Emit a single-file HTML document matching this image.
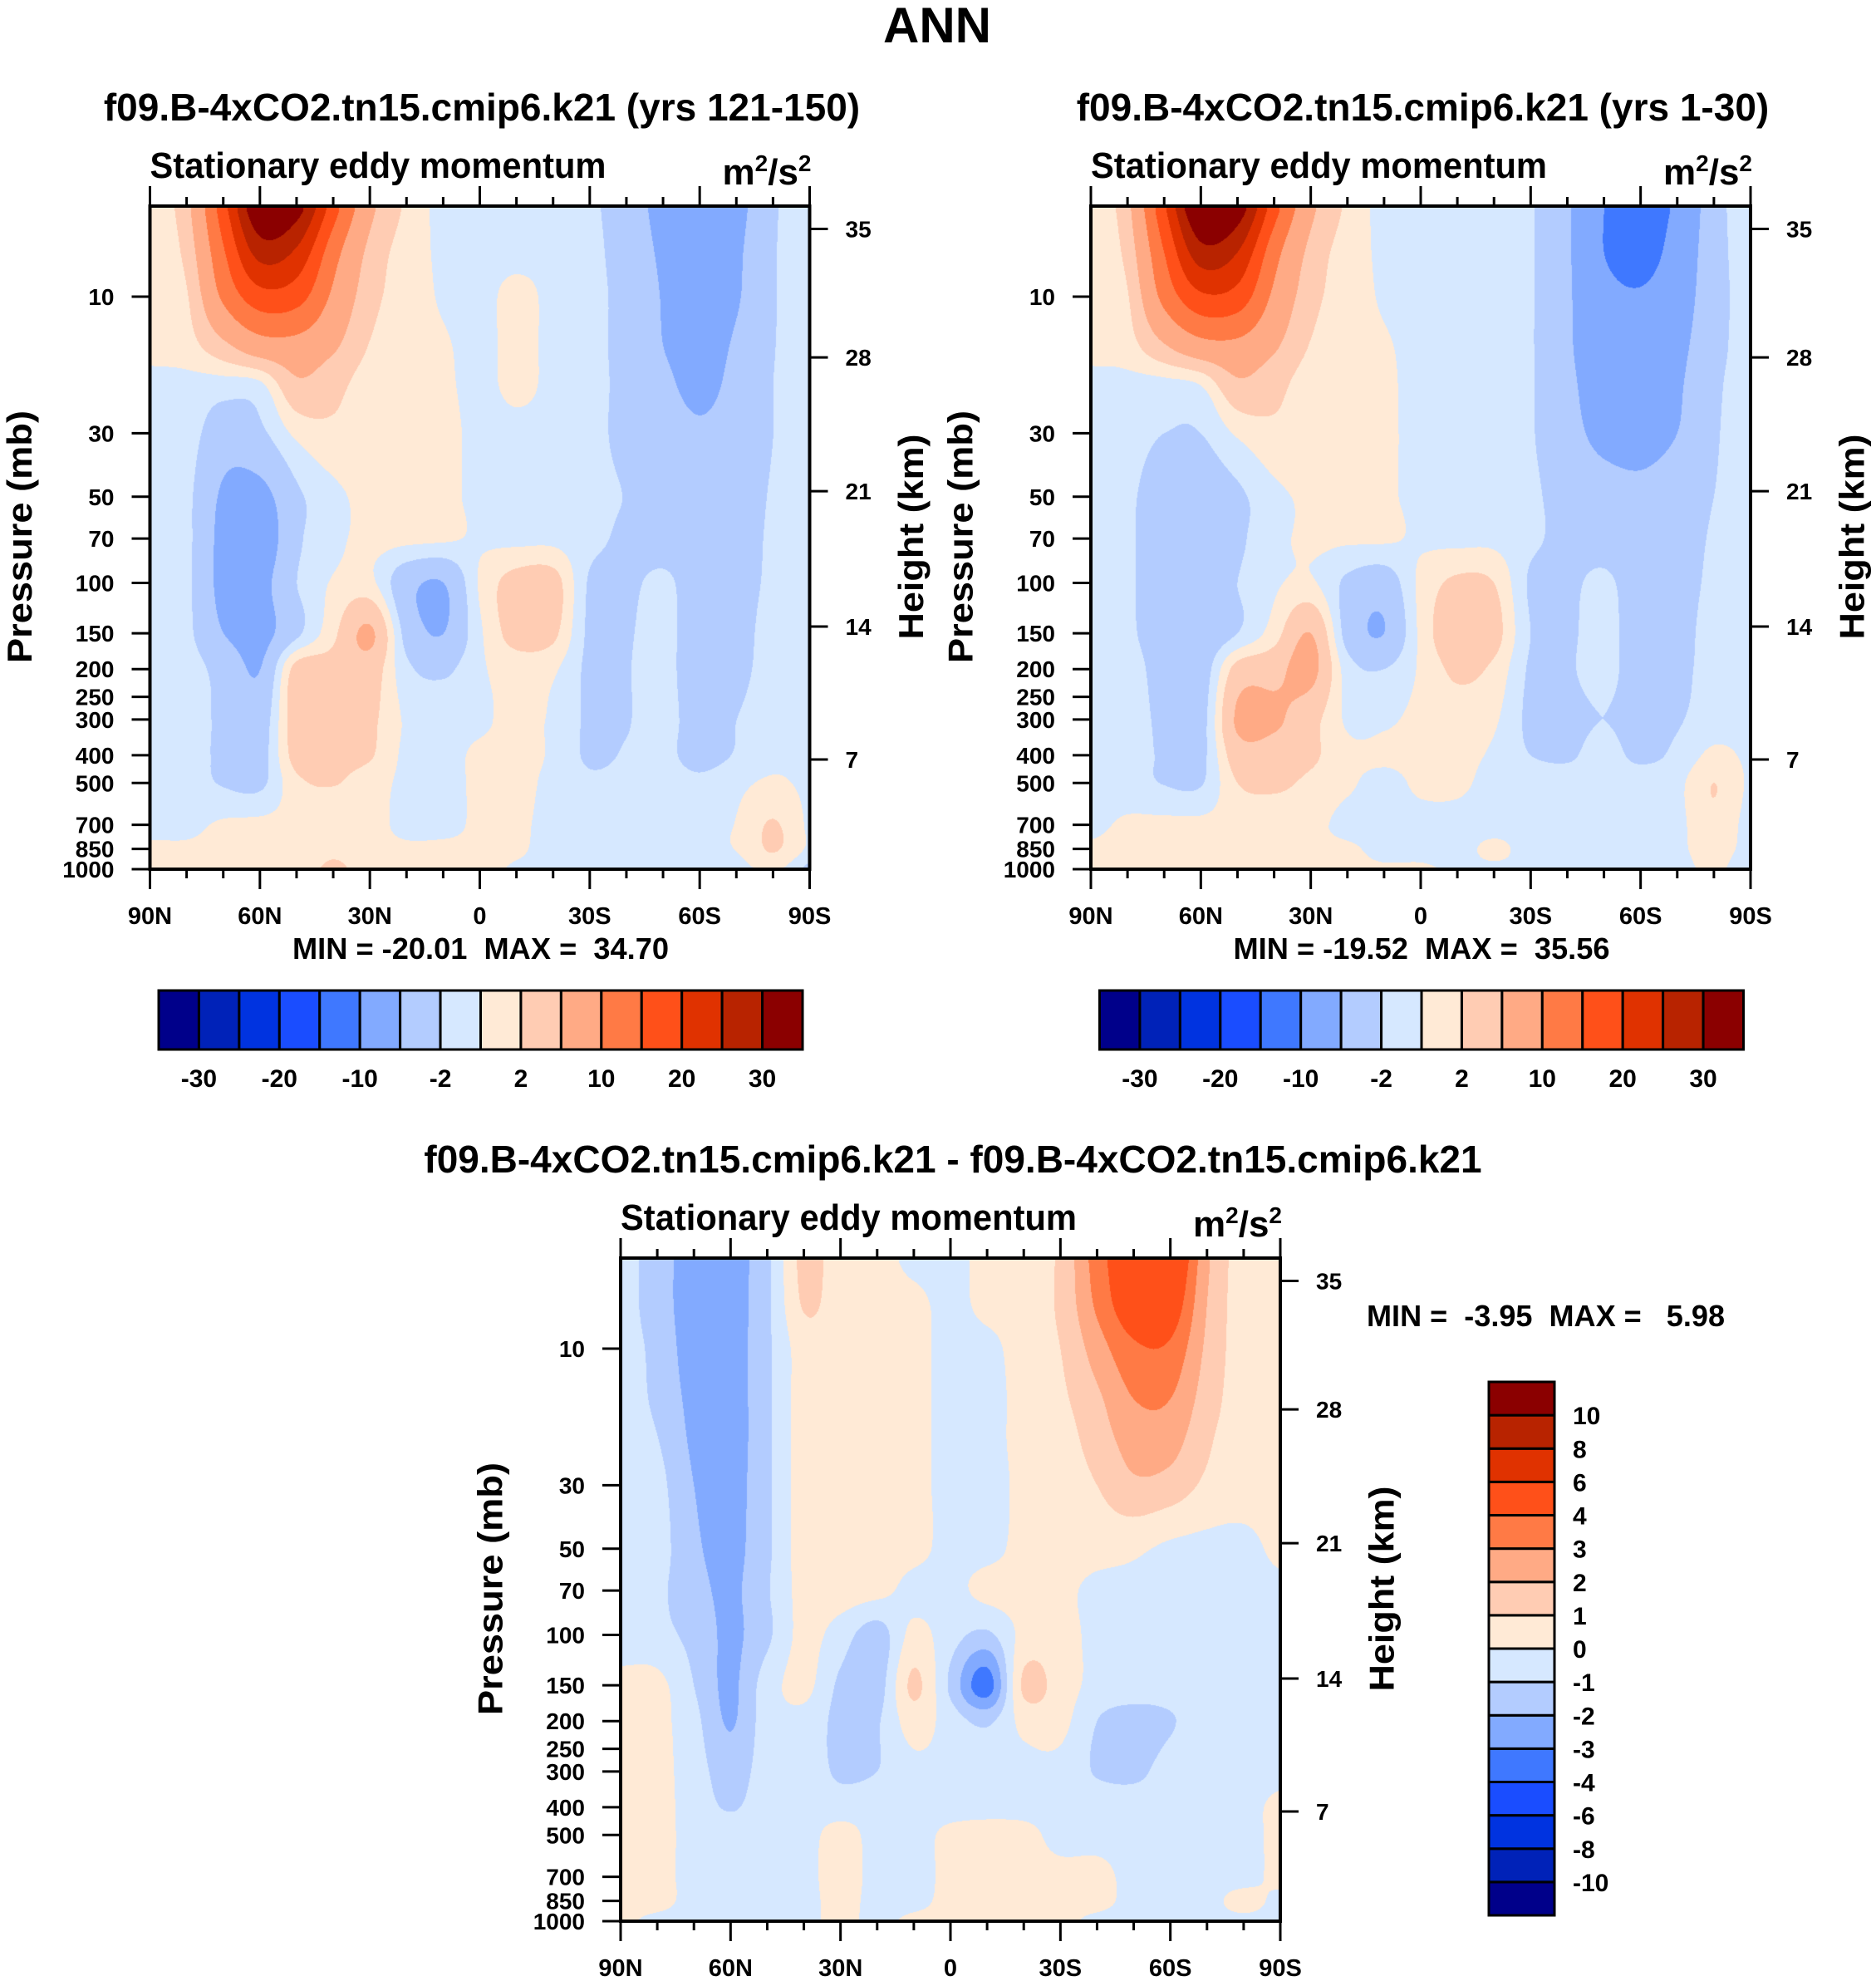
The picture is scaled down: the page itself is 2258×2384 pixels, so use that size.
<!DOCTYPE html>
<html><head><meta charset="utf-8"><title>ANN Stationary eddy momentum</title>
<style>
html,body{margin:0;padding:0;background:#fff;}
#wrap{position:relative;width:2258px;height:2384px;overflow:hidden;background:#fff;}
canvas{position:absolute;}
#svg{position:absolute;left:0;top:0;}
text{font-family:"Liberation Sans",Arial,sans-serif;font-weight:bold;fill:#000;white-space:pre;}
</style></head>
<body>
<div id="wrap">
<svg id="svg" width="2258" height="2384" xmlns="http://www.w3.org/2000/svg"></svg>
</div>
<script>
// ---------------- data ----------------
const latCols=[90,80,70,60,50,40,30,20,10,0,-10,-20,-30,-40,-50,-60,-70,-80,-90];
const pRows=[5,7,10,15,20,30,50,70,100,150,200,300,400,500,700,850,1000];
const field1=[
[0.3,4,18,35,32,17,6,1.5,-0.5,-0.5,-0.5,-0.5,-1.5,-3.5,-6,-7.5,-6,-2.3,-1],
[0.3,3,14.5,27,24,12,4,1,-0.3,-0.5,-0.5,-0.5,-1.3,-3.3,-5.5,-7,-5.5,-2.2,-1],
[0.3,1.8,11,18,17,9,3,1,-0.2,-0.5,0.5,-0.5,-1.2,-3,-5.2,-7,-5.3,-2.2,-1],
[0.3,1,4,7.5,8,5.5,1.8,0.8,0.2,-0.5,0.5,-0.5,-1.2,-3,-5,-6.5,-4.5,-2.1,-1],
[-0.3,-0.5,-0.7,-0.2,4.5,3,0.8,0.6,0.3,-0.5,0.5,-0.5,-1.2,-2.8,-4.3,-6,-4,-2,-1],
[-0.5,-1,-3.5,-2.5,0.5,1.5,0.5,0.5,0.5,-0.5,-0.5,-0.5,-1.3,-2.7,-3.5,-4.5,-3.5,-2,-1],
[-0.5,-1.5,-5.5,-6,-2.5,-0.5,0.5,0.5,0.5,-0.5,-0.5,-0.5,-1.3,-2.1,-3,-3.5,-3,-1.8,-1],
[-0.5,-1.5,-6,-7,-2.5,-0.5,0.5,0.5,0.3,-0.3,-0.5,-0.5,-1.4,-2.5,-3,-3,-2.8,-1.7,-1],
[-0.5,-1.5,-6,-6,-2,0.2,0.5,-4,-5,0.3,3,3,-2.3,-2.4,-1.6,-3.2,-2.8,-1.6,-1],
[-0.5,-1.5,-5,-6,-2.5,1.5,5.5,-3,-5,-0.3,3,2.5,-2.5,-2.2,-1.3,-3.5,-2.8,-1.2,-0.8],
[-0.5,-1,-3,-5,3,3,3.5,-1.5,-2.5,-0.3,0.8,0.3,-2.5,-2.1,-1.3,-3.5,-2.6,-1.2,-0.8],
[-0.5,-1,-2.5,-3.5,3.5,3,2.5,-0.3,-0.5,-0.3,0.5,-0.3,-2.4,-2.1,-1.3,-3,-2,-1,-0.8],
[-0.5,-1,-2.5,-3,3,2.5,2.2,-0.5,-0.5,0.3,0.5,-0.3,-2.4,-1.8,-1.5,-2.8,-1.8,-0.5,-0.5],
[-0.5,-1,-2.2,-2.5,1.5,2.1,1,-0.5,-0.5,0.3,0.5,-0.5,-1.5,-1.2,-1,-1.5,-0.5,0.3,-0.5],
[-0.5,-0.5,0.3,0.5,0.5,0.6,0.6,-0.5,-0.5,0.3,0.3,-0.5,-0.5,-0.5,-0.5,-0.5,0.1,2.2,-0.5],
[0.3,0.3,0.5,0.5,0.5,1.5,0.6,0.3,0.4,0.3,0.2,-0.5,-0.5,-0.5,-0.5,-0.5,0.1,2.2,-0.5],
[0.3,0.5,0.5,0.5,0.8,2.5,0.8,0.5,0.8,0.5,-0.2,-0.3,-0.3,-0.3,-0.3,-2,-1,0.5,-3]
];
const field2=[
[0.3,4,19,36,33,17,6,1.5,-0.5,-0.5,-0.5,-0.5,-1.8,-4.5,-10,-13,-9,-3,-1],
[0.3,3,15,28,25,12,4,1,-0.3,-0.5,-0.5,-0.5,-1.8,-4.5,-10,-12,-8,-3,-1],
[0.3,1.8,11.5,19,18,9,3,1,-0.2,-0.5,-0.5,-0.5,-1.8,-4.5,-8.5,-9.5,-7,-3,-1],
[0.3,1,4.5,8,8.5,5.5,1.8,0.8,0.2,-0.5,-0.5,-0.5,-1.8,-4.5,-7.5,-8,-6,-2.8,-1],
[-0.3,-0.5,-0.5,0.3,4.5,3,0.8,0.6,0.3,-0.5,-0.5,-0.5,-1.8,-4.2,-7,-7.5,-5.5,-2.5,-1],
[-0.5,-1,-2,-2,0.3,1.5,0.8,0.3,0.3,-0.5,-0.5,-0.5,-1.8,-3.8,-6,-6.5,-5,-2.3,-1],
[-0.5,-1.5,-3.5,-3.5,-2.5,-0.5,0.3,0.3,0.3,-0.5,-0.5,-0.5,-1.6,-2.8,-3.5,-4,-3,-2,-1],
[-0.5,-1.5,-4,-4,-2.5,-0.5,0.3,0.3,0.3,-0.3,-0.5,-0.5,-1.6,-2.6,-3,-3.5,-2.8,-1.8,-1],
[-0.5,-1.5,-4,-4,-2,-0.3,0.3,-2.5,-3.5,0.5,2.5,2,-2.3,-2.4,-1.6,-3.2,-2.8,-1.6,-1],
[-0.5,-1.5,-3.5,-4,-2,1,5,-3,-5,0.5,4,3,-2,-2.3,-1.3,-3.2,-2.8,-1.2,-0.8],
[-0.5,-1,-3,-3.5,3,4,6,-1,-2,0.3,2.5,1.5,-2.3,-2.2,-1.4,-3,-2.6,-1.2,-0.8],
[-0.5,-1,-2.5,-3,5.5,5.5,3,-0.3,-0.3,0.5,1,0.3,-2.5,-2.5,-2,-2.7,-2.2,-1,-0.8],
[-0.5,-1,-2.3,-2.7,3.5,3.5,2.5,0.5,0.3,0.5,0.5,-0.3,-2,-2.3,-1.2,-2.5,-1.5,0.5,-0.5],
[-0.5,-1,-2.1,-2.2,2,2.5,1.5,0.3,-0.5,0.3,0.3,-0.5,-0.7,-1,-0.8,-0.8,-0.5,2,-0.5],
[-0.5,0.3,0.5,0.5,0.6,0.6,0.5,-0.5,-0.5,-0.5,-0.5,-0.5,-0.5,-0.5,-0.5,-0.5,-0.5,1.5,-1],
[0.3,0.5,0.5,0.5,0.5,0.6,0.5,0.3,-0.5,-0.5,-0.5,0.3,-0.5,-0.5,-0.5,-1,-0.5,1,-1],
[0.3,0.5,0.5,0.5,0.8,1,0.8,0.5,0.3,0.3,-0.3,-0.3,-0.3,-0.3,-0.3,-2,-1,0.5,-2]
];
const field3=[
[-0.5,-1.5,-2.5,-2.5,-1.2,1.3,0.5,0.5,-0.3,-0.3,0.3,0.5,1.2,3.5,5,5.5,2.2,0.5,0.5],
[-0.5,-1.5,-2.5,-2.5,-1.2,1.1,0.5,0.5,0.3,-0.3,0.3,0.5,1.2,3.2,4.8,4.8,2,0.5,0.5],
[-0.5,-1.3,-2.5,-2.5,-1.2,0.5,0.5,0.5,0.3,-0.3,-0.3,0.5,1,2.5,3.8,3.8,1.8,0.5,0.5],
[-0.5,-1.2,-2.3,-2.5,-1.2,0.5,0.5,0.5,0.3,-0.3,-0.3,0.3,0.8,1.8,3,3,1.5,0.5,0.5],
[-0.5,-1,-2.2,-2.5,-1.2,0.5,0.5,0.5,0.3,-0.3,-0.3,0.3,0.6,1.5,2.5,2.5,1.2,0.5,0.5],
[-0.5,-0.7,-2,-2.4,-1.2,0.5,0.5,0.5,0.3,-0.3,-0.3,0.2,0.5,1,1.8,1.6,0.8,0.5,0.5],
[-0.5,-0.6,-1.8,-2.3,-1.2,0.5,0.5,0.5,0.3,-0.3,-0.3,0.3,0.5,0.4,0.2,-0.2,-0.3,-0.3,0.3],
[-0.5,-0.8,-1.6,-2.2,-1.1,0.4,0.5,0.3,-0.3,-0.3,0.3,0.4,0.3,-0.3,-0.3,-0.4,-0.4,-0.3,-0.3],
[-0.5,-0.7,-1.3,-2.2,-1.2,0.3,-0.5,-1.5,0.3,-0.6,-1.2,0.3,0.4,-0.3,-0.4,-0.5,-0.4,-0.3,-0.3],
[0.3,0.3,-1,-2.2,-0.5,0.3,-1.2,-1.5,1.2,-1.2,-3.5,1.2,0.5,-0.3,-0.4,-0.5,-0.4,-0.3,-0.3],
[0.3,0.3,-0.7,-2.1,-0.5,-0.3,-1.3,-1.1,0.5,-0.5,-1.2,0.3,0.3,-1,-1.5,-1.1,-0.4,-0.3,-0.3],
[0.3,0.3,-0.5,-1.5,-0.5,-0.3,-1.2,-1,-0.3,-0.3,-0.3,-0.3,-0.3,-1.1,-1.3,-0.5,-0.3,-0.3,-0.3],
[0.3,0.3,-0.4,-1.1,-0.4,-0.3,-0.4,-0.3,-0.3,-0.3,-0.3,-0.3,-0.3,-0.3,-0.3,-0.3,-0.3,-0.3,0.3],
[0.3,0.3,-0.3,-0.4,-0.3,-0.3,0.3,-0.3,-0.3,0.2,0.4,0.3,-0.3,-0.3,-0.3,-0.3,-0.3,-0.3,0.3],
[0.3,0.3,-0.3,-0.3,-0.3,-0.3,0.4,-0.3,-0.3,0.2,0.3,0.3,0.3,0.3,-0.3,-0.3,-0.3,-0.3,0.3],
[0.3,0.3,-0.3,-0.3,-0.3,-0.3,0.3,-0.3,-0.3,0.3,0.3,0.3,0.3,0.3,-0.3,-0.3,-0.3,0.3,-0.3],
[0.3,-0.3,-0.3,-0.3,-0.3,-0.3,0.3,-0.3,0.3,0.3,0.3,0.3,0.3,-0.3,-0.3,-0.3,-0.3,-0.3,-0.3]
];
const levelsAbs=[-30,-25,-20,-15,-10,-5,-2,0,2,5,10,15,20,25,30];
const levelsDiff=[-10,-8,-6,-4,-3,-2,-1,0,1,2,3,4,6,8,10];
const fillColors=["#00008a","#0022b8","#0033e0","#1a4dff","#3f78ff","#82aaff","#b3ccff","#d6e8ff","#ffead6","#ffccb3","#ffaa85","#ff7a45","#ff5019","#e03200","#b82300","#8b0000"];
const latTicks=[90,60,30,0,-30,-60,-90];
const latTickLabels=["90N","60N","30N","0","30S","60S","90S"];
const latMinor=[80,70,50,40,20,10,-10,-20,-40,-50,-70,-80];
const pTicks=[10,30,50,70,100,150,200,250,300,400,500,700,850,1000];
const hTickLabels=["35","28","21","14","7"];
const hTickP=[5.8,16.3,47.8,142,414];
const titles=["f09.B-4xCO2.tn15.cmip6.k21 (yrs 121-150)","f09.B-4xCO2.tn15.cmip6.k21 (yrs 1-30)","f09.B-4xCO2.tn15.cmip6.k21 - f09.B-4xCO2.tn15.cmip6.k21"];
const minVals=["-20.01","-19.52","-3.95"];
const maxVals=["34.70","35.56","5.98"];

// ---------------- helpers ----------------
const NS="http://www.w3.org/2000/svg";
const svg=document.getElementById('svg');
const wrap=document.getElementById('wrap');
function mk(tag,attrs,parent){const e=document.createElementNS(NS,tag);for(const k in attrs)e.setAttribute(k,attrs[k]);(parent||svg).appendChild(e);return e;}
function txt(s,attrs,parent){const e=mk('text',attrs,parent);e.textContent=s;return e;}
function xOf(P,lat){return P.left+(90-lat)/180*P.w;}
function yOf(P,p){return P.top+109+344.5*Math.log10(p/10);}
function interp1(xs,vs,x){const n=xs.length;if(x<=xs[0])return vs[0];if(x>=xs[n-1])return vs[n-1];
 let k=0;while(k<n-2&&x>xs[k+1])k++;const h=xs[k+1]-xs[k];const t=(x-xs[k])/h;
 const m0=k>0?(vs[k+1]-vs[k-1])/(xs[k+1]-xs[k-1]):(vs[1]-vs[0])/h;
 const m1=k<n-2?(vs[k+2]-vs[k])/(xs[k+2]-xs[k]):(vs[n-1]-vs[n-2])/h;
 const t2=t*t,t3=t2*t;
 return (2*t3-3*t2+1)*vs[k]+(t3-2*t2+t)*h*m0+(-2*t3+3*t2)*vs[k+1]+(t3-t2)*h*m1;}
function rgb(h){return [parseInt(h.substr(1,2),16),parseInt(h.substr(3,2),16),parseInt(h.substr(5,2),16)];}
const rgbs=fillColors.map(rgb);
function colorIdx(v,lev){let i=0;while(i<lev.length&&v>=lev[i])i++;return i;}

const panels=[
 {left:180.5,top:248,w:794,h:798,field:field1,levels:levelsAbs,idx:0,dx:0,dy:0},
 {left:1313,top:248,w:794,h:798,field:field2,levels:levelsAbs,idx:1,dx:1132.5,dy:0},
 {left:747,top:1514,w:794,h:798,field:field3,levels:levelsDiff,idx:2,dx:566.5,dy:1266}
];

// ---------------- title ----------------
const main=txt("ANN",{x:1128,y:51,'text-anchor':'middle','font-size':60});



function drawField(P){
 const c=document.createElement('canvas');
 const W=Math.round(P.w),H=P.h;
 c.width=W;c.height=H;
 c.style.left=P.left+'px';c.style.top=P.top+'px';
 
 
 wrap.insertBefore(c,svg);
 const ctx=c.getContext('2d');
 const img=ctx.createImageData(W,H);
 const lr=pRows.map(p=>Math.log10(p));
 const colIdx=latCols.map((l,i)=>i);
 for(let j=0;j<H;j++){
  const lp=1+(j+0.5-109)/344.5;
  const colv=[];
  for(let c2=0;c2<latCols.length;c2++){const col=P.field.map(r=>r[c2]);colv.push(interp1(lr,col,lp));}
  for(let i=0;i<W;i++){
   const u=(i+0.5)/W*18;
   const v=interp1(colIdx,colv,u);
   const ci=rgbs[colorIdx(v,P.levels)];
   const o=(j*W+i)*4;img.data[o]=ci[0];img.data[o+1]=ci[1];img.data[o+2]=ci[2];img.data[o+3]=255;
  }
 }
 ctx.putImageData(img,0,0);
}

function drawPanel(P){
 drawField(P);
 const g=mk('g',{});
 
 
 const R=P.left+P.w,B=P.top+P.h;
 const t=txt(titles[P.idx],{x:(P.idx==2?1147:580+P.dx),y:145+P.dy,'text-anchor':'middle','font-size':46},g);
 
 
 const st=txt("Stationary eddy momentum",{x:P.left,y:214+P.dy,'font-size':44,textLength:549,lengthAdjust:'spacingAndGlyphs'},g);
 
 
 const un=mk('text',{x:R+2,y:222+P.dy,'text-anchor':'end','font-size':44},g);
 un.innerHTML='m<tspan dy="-16" font-size="28">2</tspan><tspan dy="16">/s</tspan><tspan dy="-16" font-size="28">2</tspan>';
 
 
 const fr=mk('rect',{x:P.left,y:P.top,width:P.w,height:P.h,fill:'none',stroke:'#000','stroke-width':4},g);
 
 
 latTicks.forEach((lat,i)=>{
  const x=xOf(P,lat);
  const t1=mk('line',{x1:x,x2:x,y1:P.top,y2:P.top-24,stroke:'#000','stroke-width':3},g);
  
  
  const t2=mk('line',{x1:x,x2:x,y1:B,y2:B+24,stroke:'#000','stroke-width':3},g);
  
  
  const l=txt(latTickLabels[i],{x:x,y:B+66,'text-anchor':'middle','font-size':29},g);
  
  
 });
 latMinor.forEach(lat=>{
  const x=xOf(P,lat);
  const t1=mk('line',{x1:x,x2:x,y1:P.top,y2:P.top-11,stroke:'#000','stroke-width':3},g);
  
  
  const t2=mk('line',{x1:x,x2:x,y1:B,y2:B+11,stroke:'#000','stroke-width':3},g);
  
  
 });
 pTicks.forEach(p=>{
  const y=yOf(P,p);
  const tk=mk('line',{x1:P.left,x2:P.left-22,y1:y,y2:y,stroke:'#000','stroke-width':3},g);
  
  
  const l=txt(String(p),{x:P.left-43,y:y+10,'text-anchor':'end','font-size':28},g);
  
  
 });
 hTickP.forEach((p,i)=>{
  const y=yOf(P,p);
  const tk=mk('line',{x1:R,x2:R+22,y1:y,y2:y,stroke:'#000','stroke-width':3},g);
  
  
  const l=txt(hTickLabels[i],{x:R+43,y:y+10,'font-size':28},g);
  
  
 });
 const cyc=P.top+398;
 const px=P.left-157.5;
 const pt=txt("Pressure (mb)",{x:px,y:cyc,'text-anchor':'middle','font-size':42,transform:'rotate(-90 '+px+' '+cyc+')',dy:15,textLength:304,lengthAdjust:'spacingAndGlyphs'},g);
 
 
 const hx=R+121.5;
 const ht=txt("Height (km)",{x:hx,y:cyc,'text-anchor':'middle','font-size':42,transform:'rotate(-90 '+hx+' '+cyc+')',dy:15,textLength:247,lengthAdjust:'spacingAndGlyphs'},g);
 
 
 if(P.idx<2){
  const mm=txt("MIN = "+minVals[P.idx]+"  MAX =  "+maxVals[P.idx],{x:352+P.dx,y:1154,'font-size':36,textLength:453,lengthAdjust:'spacingAndGlyphs'},g);
  
  
  drawHColorbar(191+P.dx,1192,775,71,P.levels);
 } else {
  const mm=txt("MIN =  "+minVals[2]+"  MAX =   "+maxVals[2],{x:1645,y:1596,'font-size':36,textLength:431,lengthAdjust:'spacingAndGlyphs'},g);
  
  
  drawVColorbar(1792,1663,79,642,P.levels);
 }
}

function drawHColorbar(x0,y0,w,h,lev){
 const g=mk('g',{});
 
 
 const bw=w/fillColors.length;
 fillColors.forEach((c,i)=>{
  const r=mk('rect',{x:x0+i*bw,y:y0,width:bw,height:h,fill:c,stroke:'#000','stroke-width':3},g);
  
  
 });
 lev.forEach((v,k)=>{
  if(k%2!==0)return;
  const l=txt(String(v),{x:x0+(k+1)*bw,y:y0+116,'text-anchor':'middle','font-size':30},g);
  
  
 });
}
function drawVColorbar(x0,y0,w,h,lev){
 const g=mk('g',{});
 
 
 const bh=h/fillColors.length;
 fillColors.forEach((c,i)=>{
  const r=mk('rect',{x:x0,y:y0+h-(i+1)*bh,width:w,height:bh,fill:c,stroke:'#000','stroke-width':3},g);
  
  
 });
 lev.forEach((v,k)=>{
  const l=txt(String(v),{x:x0+w+22,y:y0+h-(k+1)*bh+11,'font-size':30},g);
  
  
 });
}

panels.forEach(drawPanel);
</script>
</body></html>
